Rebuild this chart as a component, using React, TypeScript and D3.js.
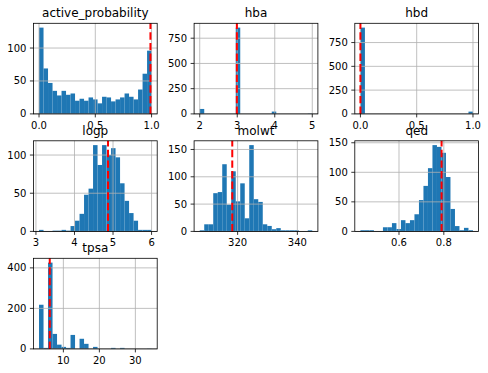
import React from "react";
import * as d3 from "d3";

const columns = ["active_probability", "hba", "hbd", "logp", "molwt", "qed", "tpsa"];

const activeProbabilityCounts = [131, 69, 47, 35, 28, 35, 29, 31, 20, 23, 20, 25, 22, 16, 26, 25, 19, 22, 25, 31, 26, 22, 37, 61, 96];
const hbaCounts = [49, 0, 0, 0, 0, 0, 0, 0, 855, 0, 0, 0, 0, 0, 0, 0, 23, 0, 0, 0, 0, 0, 0, 0, 3];
const hbdCounts = [907, 0, 0, 0, 0, 0, 0, 0, 0, 0, 0, 0, 0, 0, 0, 0, 0, 0, 0, 0, 0, 0, 0, 0, 24];
const logpCounts = [2, 0, 0, 1, 1, 2, 1, 7, 14, 23, 48, 56, 113, 87, 113, 100, 109, 97, 63, 40, 24, 14, 2, 2, 2];
const molwtCounts = [2, 13, 13, 70, 72, 123, 49, 110, 55, 88, 24, 158, 59, 54, 13, 10, 4, 6, 2, 2, 2, 2, 0, 0, 2];
const qedCounts = [2, 2, 2, 0, 0, 7, 7, 14, 4, 19, 14, 19, 29, 53, 77, 107, 146, 143, 133, 92, 38, 9, 2, 6, 2];
const tpsaCounts = [218, 5, 426, 74, 21, 10, 5, 69, 0, 50, 25, 0, 10, 0, 0, 0, 5, 0, 5, 0, 0, 0, 0, 0, 1];

const dataMins = [0, 2, 0, 3.08, 307.3, 0.428, 3.24];
const dataMaxs = [1, 5, 1, 6.0, 345, 0.93, 34.5];
const markerValues = [0.99, 2.99, 0.0, 4.87, 318.2, 0.79, 6.22];

const xTickValues = [[0, 0.5, 1], [2, 3, 4, 5], [0, 0.5, 1], [3, 4, 5, 6], [320, 340], [0.6, 0.8], [10, 20, 30]];
const xTickLabels = [["0.0", "0.5", "1.0"], ["2", "3", "4", "5"], ["0.0", "0.5", "1.0"], ["3", "4", "5", "6"], ["320", "340"], ["0.6", "0.8"], ["10", "20", "30"]];
const yTickValues = [[0, 50, 100], [0, 250, 500, 750], [0, 250, 500, 750], [0, 50, 100], [0, 50, 100, 150], [0, 50, 100, 150], [0, 200, 400]];

const allCounts = [activeProbabilityCounts, hbaCounts, hbdCounts, logpCounts, molwtCounts, qedCounts, tpsaCounts];

const W = 488;
const H = 373;
const AX_LEFT0 = 33.4;
const AX_COL_STEP = 160.7;
const AX_W = 123.8;
const AX_TOP0 = 23.3;
const AX_ROW_STEP = 117.5;
const AX_H = 90.6;
const FONT = "DejaVu Sans, sans-serif";

function Panel({ idx }: { idx: number }) {
  const col = idx % 3;
  const row = Math.floor(idx / 3);
  const left = AX_LEFT0 + col * AX_COL_STEP;
  const top = AX_TOP0 + row * AX_ROW_STEP;
  const right = left + AX_W;
  const bottom = top + AX_H;
  const counts = allCounts[idx];
  const mn = dataMins[idx];
  const mx = dataMaxs[idx];
  const r = mx - mn;
  const xs = d3.scaleLinear().domain([mn - 0.05 * r, mx + 0.05 * r]).range([left, right]);
  const maxC = d3.max(counts) as number;
  const ys = d3.scaleLinear().domain([0, maxC * 1.05]).range([bottom, top]);
  const bw = r / counts.length;
  const mk = xs(markerValues[idx]);
  return (
    <g>
      {counts.map((c, i) =>
        c > 0 ? (
          <rect
            key={i}
            x={xs(mn + i * bw)}
            y={ys(c)}
            width={xs(mn + (i + 1) * bw) - xs(mn + i * bw)}
            height={ys(0) - ys(c)}
            fill="#1f77b4"
          />
        ) : null
      )}
      {xTickValues[idx].map((t, i) => (
        <line key={"gx" + i} x1={xs(t)} x2={xs(t)} y1={top} y2={bottom} stroke="#b0b0b0" strokeWidth={0.8} />
      ))}
      {yTickValues[idx].map((t, i) => (
        <line key={"gy" + i} x1={left} x2={right} y1={ys(t)} y2={ys(t)} stroke="#b0b0b0" strokeWidth={0.8} />
      ))}
      <line x1={mk} x2={mk} y1={bottom} y2={top} stroke="#ff0000" strokeWidth={2} strokeDasharray="7.4 3.2" />
      <rect x={left} y={top} width={AX_W} height={AX_H} fill="none" stroke="#000" strokeWidth={0.8} />
      {xTickValues[idx].map((t, i) => (
        <g key={"tx" + i}>
          <line x1={xs(t)} x2={xs(t)} y1={bottom} y2={bottom + 3.5} stroke="#000" strokeWidth={0.8} />
          <text x={xs(t)} y={bottom + 14.6} textAnchor="middle" fontSize={10} fontFamily={FONT} fill="#000">
            {xTickLabels[idx][i]}
          </text>
        </g>
      ))}
      {yTickValues[idx].map((t, i) => (
        <g key={"ty" + i}>
          <line x1={left - 3.5} x2={left} y1={ys(t)} y2={ys(t)} stroke="#000" strokeWidth={0.8} />
          <text x={left - 7} y={ys(t)} dy="0.35em" textAnchor="end" fontSize={10} fontFamily={FONT} fill="#000">
            {String(t)}
          </text>
        </g>
      ))}
      <text x={(left + right) / 2} y={top - 6} textAnchor="middle" fontSize={12} fontFamily={FONT} fill="#000">
        {columns[idx]}
      </text>
    </g>
  );
}

export default function App() {
  return (
    <svg
      width={W}
      height={H}
      viewBox={`0 0 ${W} ${H}`}
      style={{ position: "absolute", left: 0, top: 0, background: "#fff" }}
    >
      <rect x={0} y={0} width={W} height={H} fill="#fff" />
      {columns.map((_, i) => (
        <Panel key={i} idx={i} />
      ))}
    </svg>
  );
}
